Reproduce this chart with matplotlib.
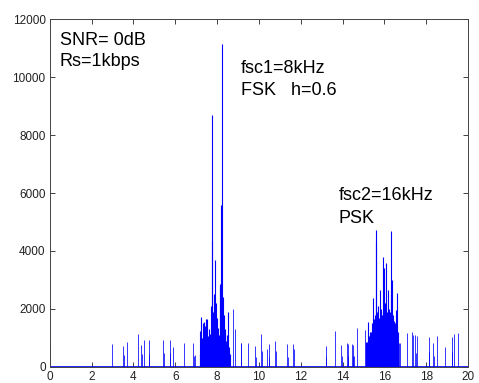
import matplotlib
matplotlib.use('Agg')
import matplotlib.pyplot as plt

plt.rcParams['font.family'] = ['Liberation Sans', 'DejaVu Sans']

# isolated spectral lines (kHz, magnitude)
sparse_f = [0.0, 2.98, 3.52, 3.55, 3.68, 4.24, 4.38, 4.40, 4.50, 4.73, 4.75,
            5.42, 5.44, 5.74, 5.76, 5.90, 6.44, 6.86, 6.88, 6.94,
            8.76, 8.86, 9.12, 9.16, 9.50, 9.80, 9.84, 10.12, 10.16, 10.40,
            10.48, 10.50, 10.76, 10.80, 11.36, 11.38, 11.64, 11.68,
            13.20, 13.22, 13.66, 13.94, 13.97, 14.20, 14.24, 14.28, 14.44,
            14.48, 14.52, 14.56, 14.68, 15.08,
            16.72, 16.74, 17.08, 17.32, 17.36, 17.46, 17.50, 17.58, 18.13,
            18.15, 18.35, 18.37, 18.53, 18.90, 19.22, 19.24, 19.34, 19.50]
sparse_mag = [900, 780, 735, 420, 870, 1130, 740, 430, 930, 930, 430,
              930, 480, 930, 480, 700, 830, 815, 380, 400,
              1990, 1300, 815, 815, 815, 735, 330, 1130, 560, 620,
              780, 330, 880, 560, 790, 330, 790, 620,
              735, 350, 1240, 740, 380, 810, 390, 780, 780,
              360, 750, 390, 1330, 1290,
              815, 815, 1160, 1220, 1100, 1100, 490, 1060, 500,
              1020, 810, 390, 1080, 700, 1030, 500, 1130, 1160]

# FSK carrier cluster around 8 kHz
fsk_f = [7.16, 7.20, 7.24, 7.28, 7.32, 7.36, 7.40, 7.44, 7.48, 7.52, 7.56,
         7.60, 7.64, 7.68, 7.72, 7.74, 7.76, 7.80, 7.84, 7.88, 7.92, 7.96,
         8.00, 8.04, 8.08, 8.12, 8.16, 8.20, 8.24, 8.28, 8.32, 8.36, 8.40,
         8.44, 8.48, 8.52, 8.56, 8.60]
fsk_mag = [450, 1250, 1730, 1000, 1500, 1560, 1150, 1400, 1650, 1650, 1050,
           1300, 950, 1150, 2100, 8700, 4350, 1900, 2500, 3700, 1600, 2200,
           1700, 1350, 1100, 2850, 2800, 5600, 11150, 2400, 1800, 1150, 1300,
           900, 1100, 1900, 700, 450]

# PSK carrier cluster around 16 kHz
psk_f = [15.12, 15.16, 15.20, 15.24, 15.28, 15.32, 15.36, 15.40, 15.44,
         15.48, 15.52, 15.56, 15.60, 15.62, 15.66, 15.70, 15.74, 15.78,
         15.82, 15.86, 15.90, 15.94, 15.98, 16.02, 16.06, 16.10, 16.14,
         16.18, 16.22, 16.26, 16.30, 16.34, 16.38, 16.42, 16.46, 16.50,
         16.54, 16.58, 16.62, 16.66]
psk_mag = [850, 870, 900, 1560, 1050, 1200, 1190, 1500, 1300,
           2370, 1650, 1800, 4300, 4720, 1900, 2100, 1700, 2650,
           1900, 2000, 1800, 3800, 3400, 2200, 3575, 2150, 1900,
           2650, 2000, 1900, 4700, 2500, 3000, 1800, 1600, 1500,
           1970, 1300, 2540, 1200]

fig = plt.figure(figsize=(4.79, 3.83), dpi=100)
ax = fig.add_axes([0.104, 0.042, 0.873, 0.908])

ax.vlines(sparse_f, 0, sparse_mag, color='#0000ff', lw=0.55)
ax.vlines(fsk_f, 0, fsk_mag, color='#0000ff', lw=0.8)
ax.vlines(psk_f, 0, psk_mag, color='#0000ff', lw=0.8)
ax.axhline(0, color='#0000ff', lw=1.2)

ax.set_xlim(0, 20)
ax.set_ylim(0, 12000)
ax.set_xticks(range(0, 21, 2))
ax.set_yticks(range(0, 12001, 2000))
ax.tick_params(direction='in', top=True, right=True, length=3.5, width=0.6,
               labelsize=8.5, colors='#222222', pad=3)
for s in ax.spines.values():
    s.set_color('#444444')
    s.set_linewidth(0.7)

ax.text(0.48, 11103, 'SNR= 0dB', fontsize=13, va='baseline')
ax.text(0.48, 10390, 'Rs=1kbps', fontsize=13, va='baseline')
ax.text(9.12, 10147, 'fsc1=8kHz', fontsize=13, va='baseline')
ax.text(9.12, 9380, 'FSK   h=0.6', fontsize=13, va='baseline')
ax.text(13.83, 5758, 'fsc2=16kHz', fontsize=13, va='baseline')
ax.text(13.83, 4955, 'PSK', fontsize=13, va='baseline')

fig.savefig('out.png', dpi=100)
